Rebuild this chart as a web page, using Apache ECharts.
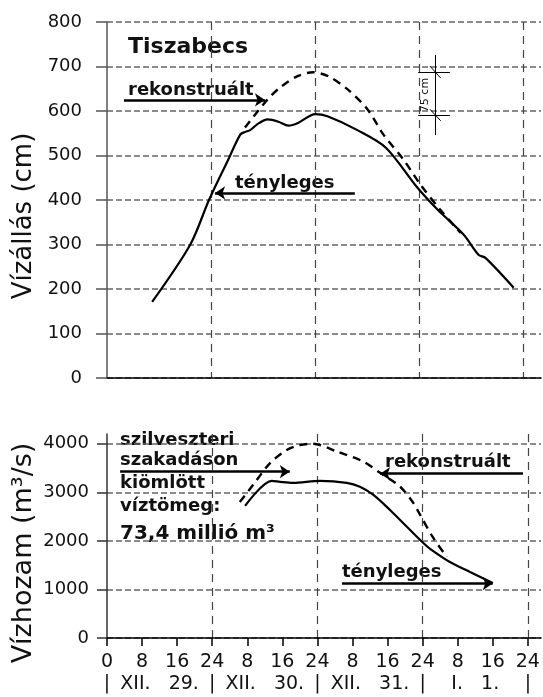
<!DOCTYPE html>
<html>
<head>
<meta charset="utf-8">
<script src="https://cdn.jsdelivr.net/npm/echarts@6/dist/echarts.min.js"></script>
<style>
html, body { margin: 0; padding: 0; background: #fff; }
#chart { width: 543px; height: 697px; }
</style>
</head>
<body>
<div id="chart"></div>
<script>
// vízállás (cm) - Tiszabecs, hours from XII.29 0:00
var levelActualH = [10.4, 19.2, 23.5, 27.9, 30.7, 31.8, 33, 34.6, 37, 39.5, 41.8, 44, 48, 50.8, 57.7, 64.2, 71.5, 76.2, 82.2, 85.6, 87.2, 93.7];
var levelActualV = [171, 300, 400, 490, 547, 553, 557, 570, 581, 576, 567, 573, 593, 588, 557, 518, 428, 378, 322, 277, 270, 203];
var levelRecH = [31.8, 36.9, 39.9, 43.8, 47.5, 51, 55.4, 60, 63.7, 68.3, 72.2, 76.8, 81.5];
var levelRecV = [563, 625, 653, 678, 687, 678, 649, 604, 547, 491, 435, 378, 326];

// vízhozam (m3/s)
var flowActualH = [31.5, 37.6, 39.5, 42.4, 48.6, 54.7, 57.7, 60.7, 64.5, 68.4, 72.1, 73.7, 78.2, 82.8, 88];
var flowActualV = [2720, 3235, 3215, 3195, 3235, 3195, 3115, 2950, 2640, 2290, 1960, 1835, 1565, 1360, 1135];
var flowRecH = [30.3, 33.3, 37.2, 41, 44, 47, 52.4, 58.5, 62.3, 66.8, 69.8, 71.4, 74.3, 77.5];
var flowRecV = [2800, 3150, 3600, 3870, 3970, 4000, 3840, 3630, 3400, 3120, 2790, 2540, 2080, 1670];

var hourTicks = [0, 8, 16, 24, 32, 40, 48, 56, 64, 72, 80, 88, 96];
var hourLabels = ['0', '8', '16', '24', '8', '16', '24', '8', '16', '24', '8', '16', '24'];
var dayBounds = [24, 48, 72, 96];
var datePos = [0, 12, 24, 36, 48, 60, 72, 84, 96];
var dateLabels = ['|', 'XII.   29.', '|', 'XII.   30.', '|', 'XII.   31.', '|', 'I.   1.', '|'];
var levelTicks = [0, 100, 200, 300, 400, 500, 600, 700, 800];
var flowTicks = [0, 1000, 2000, 3000, 4000];

function zip(a, b) {
	return a.map(function(v, i) { return [v, b[i]]; });
}

var FONT = 'DejaVu Sans';

function arrow(x1, y1, x2, y2) {
	return [{ coord: [x1, y1], symbol: 'none' }, { coord: [x2, y2], symbol: 'arrow', symbolSize: 10 }];
}
function seg(x1, y1, x2, y2) {
	return [{ coord: [x1, y1], symbol: 'none', lineStyle: { width: 1 } }, { coord: [x2, y2], symbol: 'none' }];
}

function txt(x, y, s, size, bold, rot) {
	return {
		type: 'text', x: x, y: y, rotation: rot || 0, silent: true,
		style: {
			text: s, fill: '#111',
			font: (bold ? 'bold ' : '') + size + 'px "' + FONT + '"',
			align: rot ? 'center' : 'left', verticalAlign: 'middle',
			textAlign: rot ? 'center' : 'left', textVerticalAlign: 'middle'
		}
	};
}

var chart = echarts.init(document.getElementById('chart'));
var option = {
	animation: false,
	backgroundColor: '#fff',
	textStyle: { fontFamily: FONT },
	grid: [
		{ left: 107, top: 22, width: 434, height: 356 },
		{ left: 107, top: 434, width: 434, height: 204 }
	],
	xAxis: [{
		gridIndex: 0, type: 'value', min: 0, max: 100,
		axisLine: { lineStyle: { color: '#000', width: 1.5 } },
		axisTick: { show: false, customValues: dayBounds },
		axisLabel: { show: false },
		splitLine: { show: true, lineStyle: { color: '#444', width: 1.2, type: [8, 6] } }
	}, {
		gridIndex: 1, type: 'value', position: 'bottom', min: 0, max: 99,
		axisLine: { lineStyle: { color: '#000', width: 1.5 } },
		axisTick: { show: true, customValues: hourTicks, length: 8, lineStyle: { color: '#000', width: 1.5 } },
		axisLabel: {
			customValues: hourTicks, color: '#111', fontSize: 19, margin: 15,
			formatter: function(v) { return hourLabels[hourTicks.indexOf(v)]; }
		},
		splitLine: { show: false }
	}, {
		gridIndex: 1, type: 'value', position: 'bottom', min: 0, max: 99,
		axisLine: { show: false },
		axisTick: { show: false, customValues: dayBounds },
		axisLabel: { show: false },
		splitLine: { show: true, lineStyle: { color: '#444', width: 1.2, type: [8, 6] } }
	}, {
		gridIndex: 1, type: 'value', position: 'bottom', min: 0, max: 99,
		axisLine: { show: false },
		axisTick: { show: false, customValues: datePos },
		axisLabel: {
			customValues: datePos, color: '#111', fontSize: 19, margin: 37,
			formatter: function(v) { return dateLabels[datePos.indexOf(v)]; }
		},
		splitLine: { show: false }
	}],
	yAxis: [{
		gridIndex: 0, type: 'value', min: 0, max: 800,
		axisLine: { show: true, lineStyle: { color: '#555', width: 1.5 } },
		axisTick: { show: true, length: 11, customValues: levelTicks, lineStyle: { color: '#555', width: 1.5 } },
		axisLabel: { customValues: levelTicks, color: '#111', fontSize: 18, margin: 25 },
		splitLine: { show: true, lineStyle: { color: '#666', width: 1.5, type: 'dashed' } }
	}, {
		gridIndex: 1, type: 'value', min: 0, max: 4200,
		axisLine: { show: true, lineStyle: { color: '#333', width: 1.5 } },
		axisTick: { show: true, length: 10, customValues: flowTicks, lineStyle: { color: '#333', width: 1.5 } },
		axisLabel: {
			customValues: flowTicks, color: '#111', fontSize: 18, margin: 18,
			formatter: function(v) { return String(v); }
		},
		splitLine: { show: true, lineStyle: { color: '#666', width: 1.5, type: 'dashed' } }
	}],
	series: [{
		name: 'rekonstruált', type: 'line', xAxisIndex: 0, yAxisIndex: 0,
		data: zip(levelRecH, levelRecV), symbol: 'none', smooth: 0.3,
		lineStyle: { color: '#000', width: 2.4, type: [8, 6] }
	}, {
		name: 'tényleges', type: 'line', xAxisIndex: 0, yAxisIndex: 0,
		data: zip(levelActualH, levelActualV), symbol: 'none', smooth: 0.3,
		lineStyle: { color: '#000', width: 2.2 },
		markLine: {
			silent: true, animation: false,
			label: { show: false },
			lineStyle: { color: '#000', width: 2.5, type: 'solid' },
			data: [
				arrow(3.9, 625, 36.4, 625),
				arrow(57.1, 416, 24.9, 416),
				seg(75.6, 726, 75.6, 546),
				seg(71.7, 688, 79, 688),
				seg(71.7, 591, 79, 591),
				seg(74.4, 701, 76.9, 674),
				seg(74.4, 604, 76.9, 578)
			]
		}
	}, {
		name: 'rekonstruált', type: 'line', xAxisIndex: 1, yAxisIndex: 1,
		data: zip(flowRecH, flowRecV), symbol: 'none', smooth: 0.3,
		lineStyle: { color: '#000', width: 2.4, type: [8, 6] }
	}, {
		name: 'tényleges', type: 'line', xAxisIndex: 1, yAxisIndex: 1,
		data: zip(flowActualH, flowActualV), symbol: 'none', smooth: 0.3,
		lineStyle: { color: '#000', width: 2.2 },
		markLine: {
			silent: true, animation: false,
			label: { show: false },
			lineStyle: { color: '#000', width: 2.5, type: 'solid' },
			data: [
				arrow(3.0, 3425, 41.7, 3425),
				arrow(94.9, 3384, 62.3, 3384),
				arrow(53.6, 1121, 88.0, 1121)
			]
		}
	}],
	graphic: [
		txt(24, 216, 'Vízállás (cm)', 26, false, Math.PI / 2),
		txt(24, 553, 'Vízhozam (m³/s)', 27, false, Math.PI / 2),
		txt(128, 47, 'Tiszabecs', 22, true),
		txt(128, 90, 'rekonstruált', 18, true),
		txt(235, 183, 'tényleges', 18, true),
		txt(425, 95, '75 cm', 11, false, Math.PI / 2),
		txt(120, 440, 'szilveszteri', 18, true),
		txt(120, 460, 'szakadáson', 18, true),
		txt(120, 483, 'kiömlött', 18, true),
		txt(120, 506, 'víztömeg:', 18, true),
		txt(120, 534, '73,4 millió m³', 20, true),
		txt(385, 462, 'rekonstruált', 18, true),
		txt(342, 572, 'tényleges', 18, true)
	]
};
chart.setOption(option);
</script>
</body>
</html>
